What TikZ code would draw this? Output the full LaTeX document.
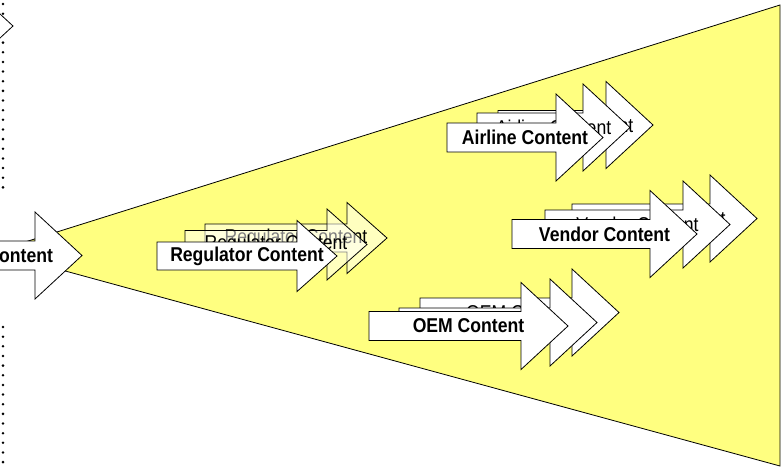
\documentclass[tikz,border=0pt]{standalone}
\usepackage{fontspec}
\newfontfamily\arrowfont{Liberation Sans}[FakeStretch=0.88]
\definecolor{funnel}{HTML}{FFFF80}

% arrow sizes (half shaft, half head, tip length)
\newcommand{\arrshaft}{14.5}
\newcommand{\arrhead}{43.5}
\newcommand{\arrtip}{47}

% #1 style, #2 name, #3 left, #4 centre y, #5 length, #6 label
\newcommand{\contentarrow}[6]{%
  \path[#1] (#3,#4-\arrshaft) -- ({#3+#5-\arrtip},#4-\arrshaft)
    -- ({#3+#5-\arrtip},#4-\arrhead) -- ({#3+#5},#4)
    -- ({#3+#5-\arrtip},#4+\arrhead) -- ({#3+#5-\arrtip},#4+\arrshaft)
    -- (#3,#4+\arrshaft) -- cycle;
  \node[#1 label] (#2) at ({#3+#5/2},#4) {#6};
}

\begin{document}
\begin{tikzpicture}[x=1pt,y=-1pt]
			\tikzset{frontbox/.style={draw, fill=white, line width=0.8pt},
				frontbox label/.style={font=\arrowfont\bfseries\fontsize{20}{24}\selectfont},
				backbox/.style={draw, fill=white, line width=0.8pt},
				backbox label/.style={font=\arrowfont\fontsize{20}{24}\selectfont},
				regsize/.code={\def\arrshaft{14}\def\arrhead{35.5}\def\arrtip{40}},
				regfront/.style={frontbox, regsize},
				regfront label/.style={frontbox label},
				regfade/.style={draw, fill=white, fill opacity=0.5, line width=0.8pt, regsize},
				regfade label/.style={backbox label},
				dots/.style={line width=2.8pt, line cap=round, dash pattern=on 0pt off 9.65pt},
			}
			\useasboundingbox (0,0) rectangle (783,466);
			\clip (0,0) rectangle (783,466);

			\coordinate (fan top left) at (25,242);
			\coordinate (fan top right) at (780,5);
			\coordinate (fan bottom right) at (780,466);
			\coordinate (fan bottom left) at (25,260);
			\path[draw, fill=funnel, line width=0.8pt]
			(fan top left) -- (fan top right) -- (fan bottom right) -- (fan bottom left) -- cycle;

			\coordinate (dots a) at (3,4);
			\coordinate (dots b) at (3,190);
			\coordinate (dots c) at (3,327);
			\coordinate (dots d) at (3,470);
			\path[draw, dots] (dots a) -- (dots b);
			\path[draw, dots] (dots c) -- (dots d);

			\contentarrow{frontbox}{upper}{-200}{26}{213}{}
			\contentarrow{frontbox}{source}{-42.5}{255.5}{124.5}{Content}

			% regulator
			\contentarrow{regfade}{reg3}{205}{238}{182}{Regulator Content}
			\contentarrow{regfade}{reg2}{185}{244.5}{182}{Regulator Content}
			\contentarrow{regfront}{reg1}{157}{256}{180}{Regulator Content}

			% airline
			\contentarrow{backbox}{air3}{498}{125}{155}{Airline Content}
			\contentarrow{backbox}{air2}{477}{127.5}{153}{Airline Content}
			\contentarrow{frontbox}{air1}{447}{137.5}{156}{Airline Content}

			% vendor
			\contentarrow{backbox}{ven3}{572}{218.5}{185}{Vendor Content}
			\contentarrow{backbox}{ven2}{545}{224.5}{185}{Vendor Content}
			\contentarrow{frontbox}{ven1}{512}{234}{185}{Vendor Content}

			% oem
			\contentarrow{backbox}{oem3}{420}{312.5}{199}{OEM Content}
			\contentarrow{backbox}{oem2}{399}{322.5}{198}{OEM Content}
			\contentarrow{frontbox}{oem1}{369}{326}{199}{OEM Content}
\end{tikzpicture}
\end{document}
